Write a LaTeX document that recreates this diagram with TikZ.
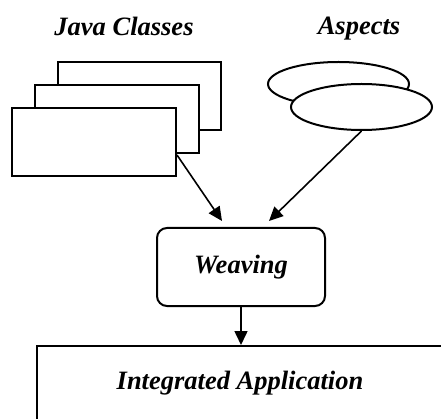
\documentclass[tikz,border=0pt]{standalone}
\usepackage{fontspec}
\setmainfont{Liberation Serif}
\usetikzlibrary{arrows.meta,shapes.geometric}

\tikzset{
  label text/.style={font=\fontsize{26.5}{30}\selectfont\bfseries\itshape, inner sep=0pt},
  classbox/.style={draw, line width=2pt, fill=white, minimum width=164pt, minimum height=68pt, inner sep=0pt},
  aspectshape/.style={ellipse, draw, line width=2pt, fill=white, minimum width=141pt, minimum height=45pt, inner sep=0pt},
  weavebox/.style={draw, line width=2pt, rounded corners=10pt, minimum width=168pt, minimum height=78pt, label text},
  appbox/.style={draw, line width=2pt, minimum width=406pt, minimum height=74pt, label text},
  flow/.style={line width=1.6pt, -{Triangle[length=14pt,width=13pt]}}
}

\begin{document}
\begin{tikzpicture}[x=1pt, y=-1pt]
  \useasboundingbox (0,0) rectangle (441,419);
  \clip (0,0) rectangle (441,419);

  % titles, placed on their baselines
  \node[label text, anchor=base] (javatitle) at (124,36) {Java Classes};
  \node[label text, anchor=base] (aspecttitle) at (359,35) {Aspects};

  % stacked class sheets, back to front
  \node[classbox, minimum width=163pt] (cls3) at (139.5,96) {};
  \node[classbox] (cls2) at (117,119) {};
  \node[classbox] (cls1) at (94,142) {};

  % overlapping aspect ellipses
  \node[aspectshape, minimum height=44pt] (asp2) at (338.5,84) {};
  \node[aspectshape, minimum height=46pt] (asp1) at (361.5,107) {};

  % weaving step
  \node[weavebox] (weave) at (241,267) {Weaving};

  % resulting application
  \node[appbox] (app) at (240,383) {Integrated Application};

  % connectors
  \draw[flow] ([yshift=-13pt]cls1.east) -- ([xshift=-19pt,yshift=6pt]weave.north);
  \draw[flow] (asp1.south) -- ([xshift=28pt,yshift=6pt]weave.north);
  \draw[flow] (weave.south) -- (weave.south |- app.north);
\end{tikzpicture}
\end{document}
